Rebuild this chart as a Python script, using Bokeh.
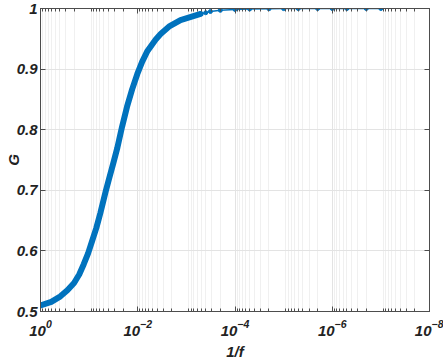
from bokeh.plotting import figure
from bokeh.models import (Range1d, FixedTicker, LinearAxis, LogAxis, CustomJSTickFormatter,
                          LogTickFormatter)
from bokeh.embed import file_html
from bokeh.resources import INLINE

# data (x = 1/f, y = G)
inv_f = [1.0, 0.60, 0.389, 0.28, 0.204, 0.16, 0.129, 0.105, 0.0871, 0.0710,
         0.0589, 0.0457, 0.0389, 0.0320, 0.0263, 0.0210, 0.0166, 0.0130,
         0.0102, 0.00813, 0.00631, 0.00427, 0.00339, 0.0022, 0.00132,
         5.1e-4, 4.0e-4, 3.2e-4, 2.0e-4, 1.0e-4, 5.0e-5, 2.0e-5, 1.0e-5,
         5.0e-6, 2.0e-6, 1.0e-6, 5.0e-7, 2.0e-7, 1.0e-7]
G = [0.510, 0.516, 0.525, 0.535, 0.547, 0.561, 0.578, 0.596, 0.616, 0.638,
     0.662, 0.698, 0.719, 0.744, 0.770, 0.805, 0.838, 0.867,
     0.892, 0.912, 0.930, 0.949, 0.958, 0.971, 0.981,
     0.991, 0.993, 0.995, 0.997, 0.9985, 0.9992, 0.9996, 0.9998,
     0.9999, 1.0, 1.0, 1.0, 1.0, 1.0]
n_dense = 26  # points drawn as the dense (thick) part of the curve

x_ticks = [1.0, 1e-2, 1e-4, 1e-6, 1e-8]
y_ticks = [0.5, 0.6, 0.7, 0.8, 0.9, 1.0]
y_tick_labels = ["0.5", "0.6", "0.7", "0.8", "0.9", "1"]
x_label = "1/f"
y_label = "G"

x_minor = [m * 10.0 ** e for e in range(-8, 0) for m in range(2, 10)]

FONT = "Liberation Sans"
BLUE = "#0072BD"
AX = "#4d4d4d"
TXT = "#222222"

p = figure(width=443, height=362, x_axis_type="log",
           x_range=Range1d(1.0, 1e-8), y_range=Range1d(0.5, 1.0),
           output_backend="svg", toolbar_location=None,
           min_border_left=40, min_border_right=14, min_border_top=8, min_border_bottom=0)

xt = FixedTicker(ticks=x_ticks, minor_ticks=x_minor)
yt = FixedTicker(ticks=y_ticks, minor_ticks=[])

yfmt = CustomJSTickFormatter(args=dict(t=y_ticks, l=y_tick_labels), code="""
  let best = 0, bd = 1e9;
  for (let i = 0; i < t.length; i++) {
    const d = Math.abs(tick - t[i]);
    if (d < bd) { bd = d; best = i; }
  }
  return l[best];
""")

for ax in [p.xaxis[0], p.yaxis[0]]:
    ax.major_tick_in = 5
    ax.major_tick_out = 0
    ax.minor_tick_in = 3
    ax.minor_tick_out = 0
    ax.axis_line_color = AX
    ax.major_tick_line_color = AX
    ax.minor_tick_line_color = AX
    ax.major_label_text_font = FONT
    ax.major_label_text_font_style = "bold italic"
    ax.major_label_text_font_size = "15px"
    ax.major_label_text_color = TXT
    ax.axis_label_text_font = FONT
    ax.axis_label_text_font_style = "bold italic"
    ax.axis_label_text_font_size = "15px"
    ax.axis_label_text_color = TXT

p.xaxis[0].ticker = xt
p.xaxis[0].formatter = LogTickFormatter()
p.xaxis[0].axis_label = x_label
p.xaxis[0].major_label_standoff = 8
p.xaxis[0].axis_label_standoff = 4

p.yaxis[0].ticker = yt
p.yaxis[0].formatter = yfmt
p.yaxis[0].axis_label = y_label
p.yaxis[0].major_label_standoff = 3
p.yaxis[0].axis_label_standoff = -8

top = LogAxis(ticker=xt, major_label_text_font_size="1px", major_label_text_alpha=0,
              major_tick_in=5, major_tick_out=0,
              minor_tick_in=3, minor_tick_out=0, axis_line_color=AX,
              major_tick_line_color=AX, minor_tick_line_color=AX, major_label_standoff=0)
right = LinearAxis(ticker=yt, major_label_text_font_size="1px", major_label_text_alpha=0,
                   major_tick_in=5, major_tick_out=0,
                   minor_tick_in=3, minor_tick_out=0, axis_line_color=AX,
                   major_tick_line_color=AX, minor_tick_line_color=AX, major_label_standoff=0)
p.add_layout(top, "above")
p.add_layout(right, "right")

p.xgrid.ticker = xt
p.ygrid.ticker = yt
p.xgrid.grid_line_color = "#e3e3e3"
p.ygrid.grid_line_color = "#e3e3e3"
p.xgrid.minor_grid_line_color = "#f0f0f0"
p.ygrid.minor_grid_line_color = None
p.outline_line_color = AX

p.line(inv_f, G, line_color=BLUE, line_width=1.5)
p.line(inv_f[:n_dense], G[:n_dense], line_color=BLUE, line_width=6, line_join="round", line_cap="round")
p.scatter(inv_f[n_dense - 1:], G[n_dense - 1:], size=4, color=BLUE)

open("out.html", "w").write(file_html(p, INLINE))
